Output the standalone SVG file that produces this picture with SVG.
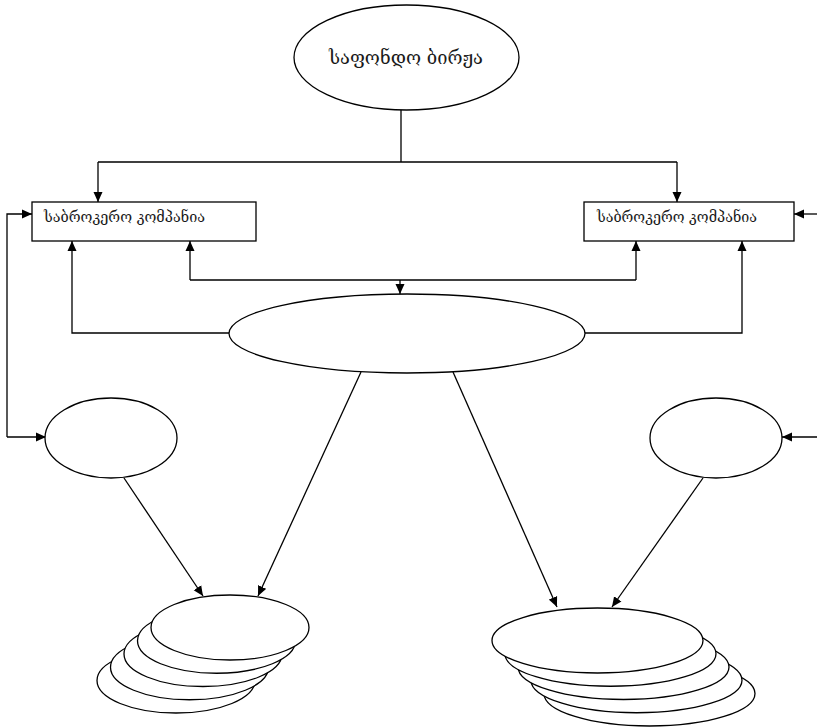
<svg xmlns="http://www.w3.org/2000/svg" width="817" height="728" viewBox="0 0 817 728">
<defs>
<marker id="ah" viewBox="0 0 10 10" refX="10" refY="5" markerWidth="10" markerHeight="10" markerUnits="userSpaceOnUse" orient="auto"><path d="M0,0.5 L10,5 L0,9.5 z" fill="#000"/></marker>
<style>
.s{fill:#fff;stroke:#000;stroke-width:1.3}
.c{fill:none;stroke:#000;stroke-width:1.3}
.a{fill:none;stroke:#000;stroke-width:1.3;marker-end:url(#ah)}
.t{font-family:"DejaVu Serif","DejaVu Sans",serif;fill:#1a1a1a}
</style>
</defs>
<rect width="817" height="728" fill="#fff"/>
<g id="connectors">
<path class="c" d="M401,110 V162 M98,162 H677"/>
<path class="a" d="M98,162 V202"/>
<path class="a" d="M677,162 V202"/>
<path class="c" d="M190,280 H636"/>
<path class="a" d="M190,280 V241"/>
<path class="a" d="M636,280 V241"/>
<path class="a" d="M400,280 V294"/>
<path class="a" d="M229,333 H72 V241"/>
<path class="a" d="M585,333 H742 V241"/>
<path class="a" d="M7,437 V214 H32"/>
<path class="a" d="M7,437 H46"/>
<path class="a" d="M817,214 H794"/>
<path class="a" d="M817,437 H782"/>
<path class="a" d="M361,372 L258,596"/>
<path class="a" d="M453,372 L557,607"/>
<path class="a" d="M124,478 L203,596"/>
<path class="a" d="M703,478 L612,607"/>
</g>
<g id="exchange">
<ellipse class="s" cx="406.5" cy="57.5" rx="112.5" ry="52.5"/>
<text class="t" x="406" y="64" font-size="18" text-anchor="middle" textLength="154" lengthAdjust="spacingAndGlyphs">საფონდო ბირჟა</text>
</g>
<g id="broker-left">
<rect class="s" x="32" y="202" width="224" height="39"/>
<text class="t" x="44" y="222" font-size="14" textLength="161" lengthAdjust="spacingAndGlyphs">საბროკერო კომპანია</text>
</g>
<g id="broker-right">
<rect class="s" x="584" y="202" width="210" height="39"/>
<text class="t" x="597" y="222" font-size="14" textLength="160" lengthAdjust="spacingAndGlyphs">საბროკერო კომპანია</text>
</g>
<g id="center">
<ellipse class="s" cx="407" cy="333.5" rx="178" ry="39.5"/>
</g>
<g id="left-small">
<ellipse class="s" cx="111" cy="438" rx="66" ry="40"/>
</g>
<g id="right-small">
<ellipse class="s" cx="716" cy="438" rx="66" ry="40"/>
</g>
<g id="stack-left">
<ellipse class="s" cx="176" cy="680.5" rx="79" ry="32.5"/>
<ellipse class="s" cx="189.5" cy="667.25" rx="79" ry="32.5"/>
<ellipse class="s" cx="203" cy="654" rx="79" ry="32.5"/>
<ellipse class="s" cx="216.5" cy="640.75" rx="79" ry="32.5"/>
<ellipse class="s" cx="230" cy="627.5" rx="79" ry="32.5"/>
</g>
<g id="stack-right">
<ellipse class="s" cx="649.5" cy="693.5" rx="105.5" ry="32.5"/>
<ellipse class="s" cx="636.5" cy="680.25" rx="105.5" ry="32.5"/>
<ellipse class="s" cx="623.5" cy="667" rx="105.5" ry="32.5"/>
<ellipse class="s" cx="610.5" cy="653.75" rx="105.5" ry="32.5"/>
<ellipse class="s" cx="597.5" cy="640.5" rx="105.5" ry="32.5"/>
</g>
</svg>
